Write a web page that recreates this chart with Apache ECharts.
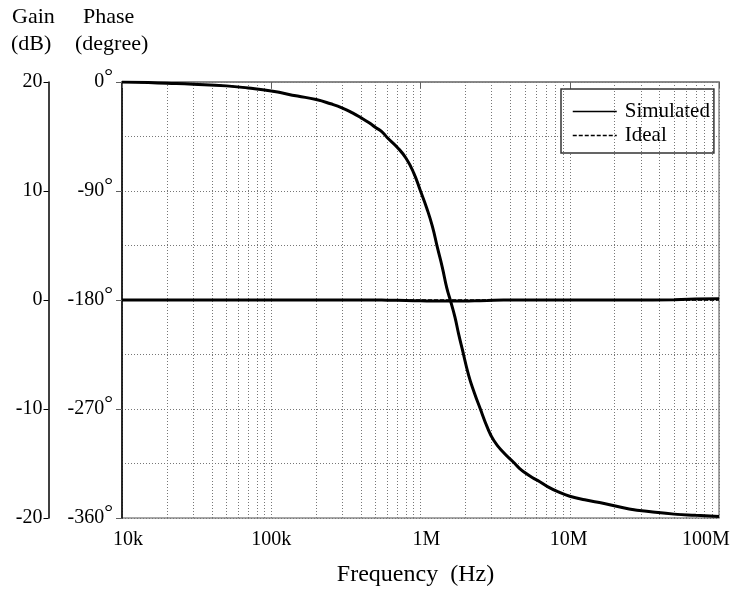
<!DOCTYPE html>
<html>
<head>
<meta charset="utf-8">
<script src="https://cdn.jsdelivr.net/npm/echarts@6/dist/echarts.min.js"></script>
<style>
  html, body { margin: 0; padding: 0; background: #fff; }
  #chart { width: 731px; height: 591px; }
</style>
</head>
<body>
<div id="chart"></div>
<script>
// frequency points (Hz)
const freq = [
  1e4, 1.5e4, 2e4, 3e4, 5e4, 7e4, 1e5, 1.5e5, 2e5, 2.5e5, 3e5, 3.5e5, 4e5,
  4.5e5, 5e5, 5.5e5, 6e5, 7e5, 8e5, 9e5, 1e6, 1.1e6, 1.2e6, 1.3e6, 1.4e6,
  1.5e6, 1.6e6, 1.7e6, 1.8e6, 1.9e6, 2.1e6, 2.3e6, 2.5e6, 2.8e6, 3.1e6,
  3.6e6, 4.2e6, 4.6e6, 5e6, 5.6e6, 6.3e6, 7.2e6, 8.4e6, 1e7, 1.26e7, 1.7e7,
  2.5e7, 3.6e7, 5e7, 7e7, 1e8
];

// phase (degree)
const phaseSim = [
  0, -0.5, -1, -1.8, -3.2, -5, -7.5, -11.6, -14.5, -18, -21.5, -25.5, -29.6,
  -33.5, -37.5, -41, -46, -54, -63, -75, -90, -104, -119, -137, -153,
  -170, -182, -194, -208, -220, -242, -257, -269, -285, -296,
  -306, -314, -319, -322.5, -326.5, -330, -334.5, -338.5, -342, -345, -348,
  -352.5, -355, -356.8, -357.8, -358.7
];
const phaseIdeal = phaseSim.slice();

// gain (dB)
const gainSim = [
  0, 0, 0, 0, 0, 0, 0, 0, 0, 0, 0, 0, 0,
  0, 0, -0.01, -0.02, -0.03, -0.05, -0.07, -0.08, -0.1, -0.1, -0.1, -0.1,
  -0.1, -0.1, -0.1, -0.1, -0.1, -0.1, -0.08, -0.06, -0.04, -0.02,
  0, 0, 0, 0, 0, 0, 0, 0, 0, 0, 0,
  0, 0.01, 0.03, 0.1, 0.12
];
const gainIdeal = freq.map(() => 0);

const minorFreq = [];
[1e4, 1e5, 1e6, 1e7].forEach(d => {
  [2, 3, 4, 5, 6, 7, 8, 9].forEach(m => minorFreq.push(d * m));
});

const freqLabels = { 10000: '10k', 100000: '100k', 1000000: '1M', 10000000: '10M', 100000000: '100M' };
const phaseTicks = [0, -90, -180, -270, -360];
const gainTicks = [20, 10, 0, -10, -20];

const font = 'Liberation Serif';
const pairs = (ys) => freq.map((f, i) => [f, ys[i]]);
const dotted = { type: [1, 2], color: '#777', width: 1 };
const lbl = (pad) => ({ fontFamily: font, fontSize: 20, color: '#000', padding: pad });

const chart = echarts.init(document.getElementById('chart'));

chart.setOption({
  animation: false,
  textStyle: { fontFamily: font, color: '#000' },
  grid: {
    left: 122, right: 12, top: 82, bottom: 73,
    outerBoundsMode: 'none',
    containLabel: false,
    show: true, borderColor: '#8a8a8a', borderWidth: 1.5
  },
  legend: {
    data: [
      { name: 'Simulated' },
      { name: 'Ideal', lineStyle: { type: [4, 2], width: 1.5 } }
    ],
    orient: 'vertical',
    left: 561,
    top: 89,
    padding: [12, 4, 7, 11],
    itemGap: 3,
    itemWidth: 44,
    itemHeight: 12,
    borderColor: '#333',
    borderWidth: 1.5,
    backgroundColor: '#fff',
    itemStyle: { opacity: 0 },
    lineStyle: { width: 1.5 },
    textStyle: { fontFamily: font, fontSize: 21, color: '#000', padding: [0, 0, 0, 3] }
  },
  xAxis: {
    type: 'log',
    logBase: 10,
    min: 1e4,
    max: 1e8,
    name: 'Frequency  (Hz)',
    nameLocation: 'middle',
    nameGap: 45,
    nameTextStyle: { fontFamily: font, fontSize: 24, color: '#000', padding: [0, 10, 0, 0] },
    axisLine: { lineStyle: { color: '#808080', width: 1.5 } },
    axisTick: { show: true, length: 6, lineStyle: { color: '#606060' } },
    axisLabel: {
      margin: 12,
      formatter: v => {
        const t = freqLabels[Math.round(v)];
        if (!t) return '';
        const key = { '10k': 'a', '100k': 'b', '1M': 'a', '10M': 'c', '100M': 'e' }[t];
        return '{' + key + '|' + t + '}';
      },
      rich: {
        a: lbl([0, 0, 0, 12]),
        b: lbl([0, 0, 0, 0]),
        c: lbl([0, 2, 0, 0]),
        e: lbl([0, 26, 0, 0])
      }
    },
    splitLine: { show: true, lineStyle: dotted }
  },
  yAxis: [
    {
      type: 'value',
      position: 'left',
      min: -360,
      max: 0,
      interval: 90,
      axisLine: { show: true, lineStyle: { color: '#000', width: 1.5 } },
      axisTick: { show: true, length: 6, lineStyle: { color: '#606060' } },
      axisLabel: {
        margin: 9,
        formatter: v => phaseTicks.includes(v) ? '{n|' + v + '}{d|°}' : '',
        rich: {
          n: { fontFamily: font, fontSize: 20, color: '#000', padding: [5, 0, 5, 0] },
          d: { fontFamily: font, fontSize: 22, color: '#000', padding: [0, 0, 10, 0] }
        }
      },
      splitLine: { show: true, lineStyle: dotted },
      minorTick: { show: false, splitNumber: 2 },
      minorSplitLine: { show: true, lineStyle: dotted }
    },
    {
      type: 'value',
      position: 'left',
      offset: 73.5,
      min: -20,
      max: 20,
      interval: 10,
      axisLine: { show: true, lineStyle: { color: '#000', width: 1.5 } },
      axisTick: { show: true, length: 5, lineStyle: { color: '#000' } },
      axisLabel: {
        margin: 6, fontFamily: font, fontSize: 20, color: '#000',
        formatter: v => gainTicks.includes(v) ? String(v) : ''
      },
      splitLine: { show: false }
    }
  ],
  series: [
    {
      name: 'Ideal',
      type: 'line',
      yAxisIndex: 0,
      data: pairs(phaseIdeal),
      symbol: 'none',
      smooth: 0.5,
      lineStyle: { color: '#000', width: 1.5, type: [4, 2] },
      itemStyle: { color: '#000' },
      z: 4
    },
    {
      name: 'Simulated',
      type: 'line',
      yAxisIndex: 0,
      data: pairs(phaseSim),
      symbol: 'none',
      smooth: 0.5,
      lineStyle: { color: '#000', width: 3 },
      itemStyle: { color: '#000' },
      z: 5,
      markLine: {
        silent: true,
        symbol: 'none',
        label: { show: false },
        lineStyle: dotted,
        data: minorFreq.map(f => ({ xAxis: f }))
      }
    },
    {
      name: 'Simulated',
      type: 'line',
      yAxisIndex: 1,
      data: pairs(gainSim),
      symbol: 'none',
      lineStyle: { color: '#000', width: 3 },
      itemStyle: { color: '#000' },
      z: 5
    },
    {
      name: 'Ideal',
      type: 'line',
      yAxisIndex: 1,
      data: pairs(gainIdeal),
      symbol: 'none',
      lineStyle: { color: '#000', width: 1.5, type: [4, 2] },
      itemStyle: { color: '#000' },
      z: 6
    }
  ],
  graphic: [
    { type: 'text', left: 12, top: 6, style: { text: 'Gain', font: '22px "Liberation Serif"', fill: '#000' } },
    { type: 'text', left: 11, top: 33, style: { text: '(dB)', font: '22px "Liberation Serif"', fill: '#000' } },
    { type: 'text', left: 83, top: 6, style: { text: 'Phase', font: '22px "Liberation Serif"', fill: '#000' } },
    { type: 'text', left: 75, top: 33, style: { text: '(degree)', font: '22px "Liberation Serif"', fill: '#000' } }
  ]
});
</script>
</body>
</html>
